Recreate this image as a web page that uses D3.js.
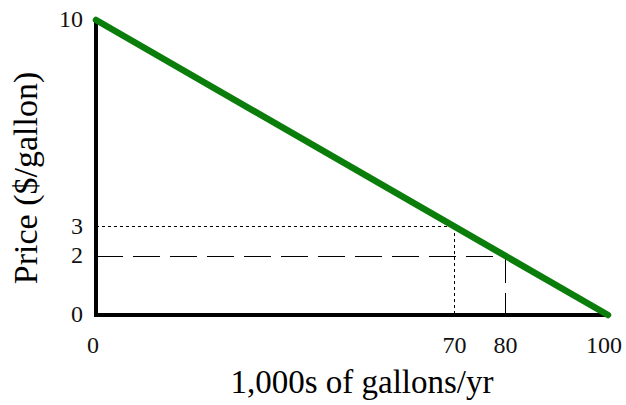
<!DOCTYPE html>
<html><head><meta charset="utf-8">
<script src="https://cdn.jsdelivr.net/npm/d3@7"></script>
<style>body{margin:0;background:#fff}svg{display:block}</style>
</head><body>
<script>
const demandX = [0, 100];
const demandY = [10, 0];
const xTicks = [0, 70, 80, 100];
const yTicks = [0, 2, 3, 10];
const dottedPoint = [70, 3];
const dashedPoint = [80, 2];
const xTitle = "1,000s of gallons/yr";
const yTitle = "Price ($/gallon)";

const W = 626, H = 405;
const svg = d3.select("body").append("svg").attr("width", W).attr("height", H);
const x = d3.scaleLinear().domain([0, 100]).range([96, 608]);
const y = d3.scaleLinear().domain([0, 10]).range([315, 20]);
const font = "'Liberation Serif', 'Times New Roman', serif";

// guide lines (horizontal and vertical drawn separately so each starts with a dash)
function guide(p, dash) {
  [`M${x(0)},${y(p[1])}H${x(p[0])}`, `M${x(p[0])},${y(p[1])}V${y(0)}`].forEach(d => {
    svg.append("path")
      .attr("d", d)
      .attr("fill", "none").attr("stroke", "#000").attr("stroke-width", 1)
      .attr("shape-rendering", "crispEdges")
      .attr("stroke-dasharray", dash);
  });
}
guide(dottedPoint, "3,3");
guide(dashedPoint, "27,10");

// axes
svg.append("path")
  .attr("d", `M${x(0)},${y(10)}V${y(0)}H${x(100)}`)
  .attr("fill", "none").attr("stroke", "#000").attr("stroke-width", 4);

// demand line
const line = d3.line().x(d => x(d[0])).y(d => y(d[1]));
svg.append("path").datum(demandX.map((v, i) => [v, demandY[i]]))
  .attr("d", line).attr("fill", "none").attr("stroke", "#0a7d0a")
  .attr("stroke-width", 6.5).attr("stroke-linecap", "round");

// tick labels
svg.selectAll("text.yt").data(yTicks).enter().append("text")
  .attr("x", 83).attr("y", d => y(d) + 7)
  .attr("text-anchor", "end").attr("font-family", font).attr("font-size", 24)
  .attr("fill", "#111").text(d => d);
svg.selectAll("text.xt").data(xTicks).enter().append("text")
  .attr("x", d => x(d) + (d === 0 ? -3 : d === 100 ? -4 : 0)).attr("y", 353)
  .attr("text-anchor", "middle").attr("font-family", font).attr("font-size", 24)
  .attr("fill", "#111").text(d => d);

// titles
svg.append("text").attr("x", 362).attr("y", 393)
  .attr("text-anchor", "middle").attr("font-family", font).attr("font-size", 33)
  .text(xTitle);
svg.append("text").attr("transform", "translate(37,178) rotate(-90)")
  .attr("text-anchor", "middle").attr("font-family", font).attr("font-size", 34)
  .text(yTitle);
</script>
</body></html>
